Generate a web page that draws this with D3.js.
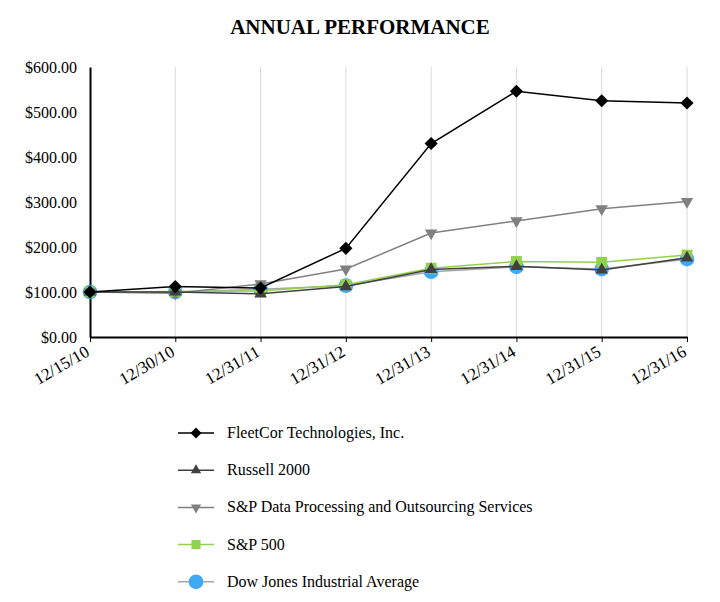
<!DOCTYPE html>
<html><head><meta charset="utf-8">
<script src="https://cdn.jsdelivr.net/npm/d3@7"></script>
<style>body{margin:0;background:#fff;} svg text{font-family:"Liberation Serif","Times New Roman",serif !important;}</style>
</head><body><svg id="c" width="720" height="602"></svg>
<script>
const categories = ["12/15/10","12/30/10","12/31/11","12/31/12","12/31/13","12/31/14","12/31/15","12/31/16"];
const fleetcor = [100, 112, 109, 197, 430, 546, 525, 520];
const russell = [100, 100, 96, 112, 150, 157, 149, 176];
const spData = [100, 97, 118, 151, 231, 258, 285, 301];
const sp500 = [100, 101, 102, 116, 153, 168, 166, 182];
const dow = [100, 100, 106, 114, 145, 156, 151, 173];
const yTicks = [0, 100, 200, 300, 400, 500, 600];

const series = [
  {name:"FleetCor Technologies, Inc.", values:fleetcor, color:"#000", lw:1.5, marker:"diamond", mcolor:"#000"},
  {name:"Russell 2000", values:russell, color:"#404040", lw:1.5, marker:"triangle", mcolor:"#404040"},
  {name:"S&P Data Processing and Outsourcing Services", values:spData, color:"#808080", lw:1.5, marker:"down", mcolor:"#808080"},
  {name:"S&P 500", values:sp500, color:"#92d050", lw:1.5, marker:"square", mcolor:"#92d050"},
  {name:"Dow Jones Industrial Average", values:dow, color:"#a6a6a6", lw:1.5, marker:"circle", mcolor:"#3fa9f5"}
];

const svg = d3.select("#c");
const x = d3.scalePoint().domain(categories).range([90, 687]);
const y = d3.scaleLinear().domain([0, 600]).range([337, 67]);

svg.append("text").attr("x", 360).attr("y", 34).attr("text-anchor","middle")
  .attr("font-size", 21).attr("font-weight","bold").text("ANNUAL PERFORMANCE");

// vertical gridlines
svg.append("g").selectAll("line").data(categories.slice(1)).join("line")
  .attr("x1", d=>x(d)).attr("x2", d=>x(d)).attr("y1", 67).attr("y2", 337)
  .attr("stroke","#d9d9d9").attr("stroke-width",1);

// y axis
const ya = svg.append("g").attr("transform","translate(90,0)")
  .call(d3.axisLeft(y).tickValues(yTicks).tickSize(0).tickPadding(13).tickFormat(d=>"$"+d3.format(".2f")(d)));
ya.select(".domain").attr("stroke","#000").attr("stroke-width",2);
ya.selectAll("text").attr("font-size",16).attr("fill","#000");

// x axis
const xa = svg.append("g").attr("transform","translate(0,337)")
  .call(d3.axisBottom(x).tickSize(5).tickSizeOuter(0));
xa.select(".domain").attr("stroke","#000").attr("stroke-width",2);
xa.selectAll(".tick line").attr("stroke","#000");
xa.selectAll("text").attr("font-size",17).attr("fill","#000")
  .attr("text-anchor","end").attr("dy",0).attr("y",0)
  .attr("transform","translate(0,18) rotate(-30)");

const symbolOf = m => ({diamond:d3.symbolDiamond2, triangle:d3.symbolTriangle2, down:d3.symbolTriangle2, square:d3.symbolSquare2, circle:d3.symbolCircle})[m];
const sizeOf = m => ({diamond:110, triangle:110, down:110, square:150, circle:170})[m];
function drawMarker(g, s, cx, cy, scale){
  const sym = d3.symbol().type(symbolOf(s.marker)).size(sizeOf(s.marker)*scale);
  g.append("path").attr("d", sym()).attr("fill", s.mcolor)
    .attr("transform", `translate(${cx},${cy})` + (s.marker==="down" ? " rotate(180)" : ""));
}

const line = d3.line().x((d,i)=>x(categories[i])).y(d=>y(d));
const drawOrder = [4,3,2,1,0];
drawOrder.forEach(k => {
  const s = series[k];
  const g = svg.append("g");
  g.append("path").datum(s.values).attr("d", line).attr("fill","none")
    .attr("stroke", s.color).attr("stroke-width", s.lw);
  s.values.forEach((v,i)=> drawMarker(g, s, x(categories[i]), y(v), 1));
});

// legend
const lg = svg.append("g");
series.forEach((s,i)=>{
  const ly = 433 + i*37.2;
  lg.append("line").attr("x1",178).attr("x2",214).attr("y1",ly).attr("y2",ly)
    .attr("stroke", s.color).attr("stroke-width", 1.5);
  drawMarker(lg, s, 196, ly, s.marker==="circle"?1:0.7);
  lg.append("text").attr("x", 227).attr("y", ly+5).attr("font-size", 16).attr("fill","#000").text(s.name);
});
</script></body></html>
